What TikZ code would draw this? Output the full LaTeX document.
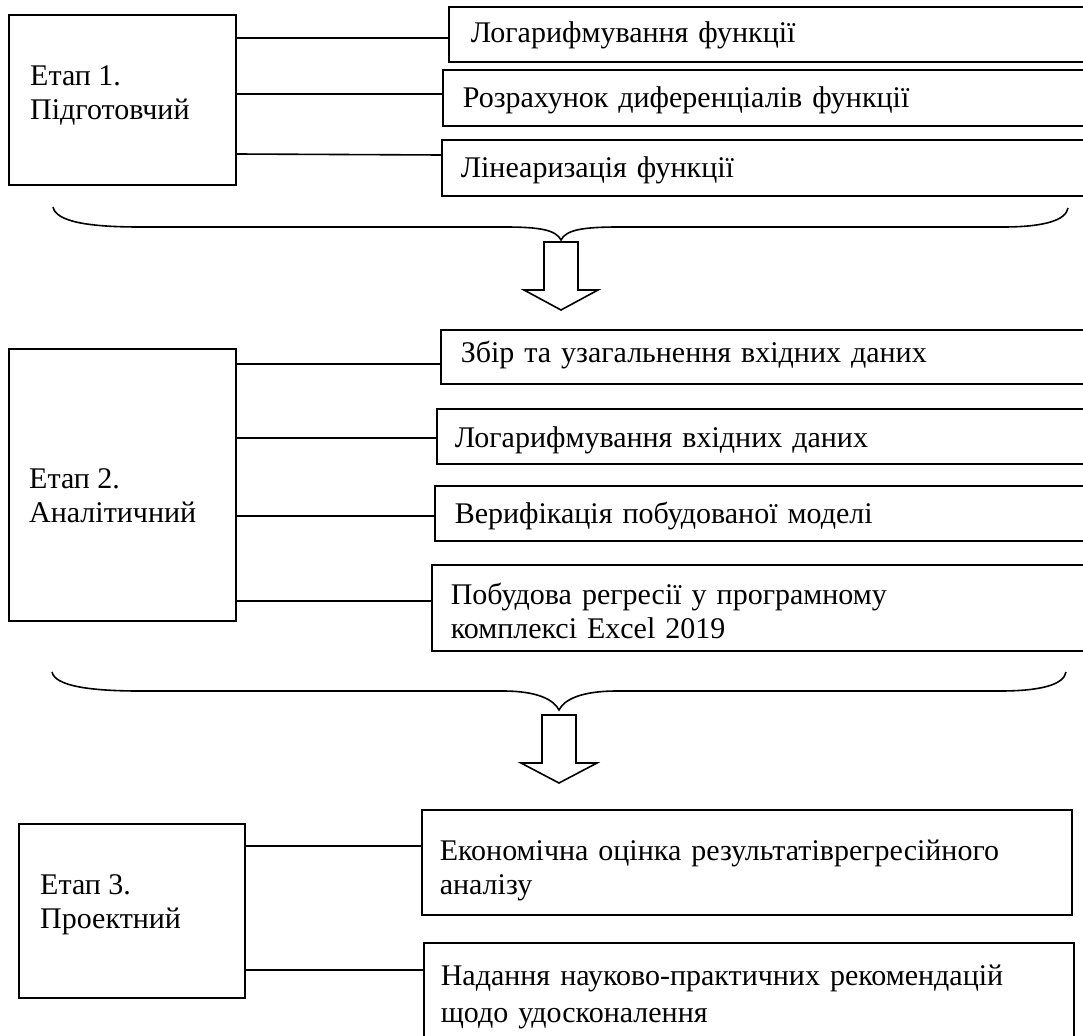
\documentclass[tikz,border=0pt]{standalone}
\usepackage{fontspec}
\setmainfont{Liberation Serif}
\begin{document}
\begin{tikzpicture}[x=1pt,y=-1pt,
  font=\fontsize{30}{34}\selectfont,
  stagebox/.style={draw, line width=1.8pt, rectangle, inner sep=0pt, anchor=north west},
  stagetxt/.style={inner sep=0pt, align=left, anchor=base west},
  itembox/.style={draw, line width=1.6pt, rectangle, anchor=west, inner ysep=0pt,
    inner xsep=19pt, align=left, text width=660pt, text depth=0pt},
  link/.style={line width=1.6pt},
  brace/.style={line width=1.6pt},
  blockarrow/.style={line width=1.6pt, fill=white, line join=miter}
]
\useasboundingbox (0,0) rectangle (1083,1035);

% ---------- Stage 1 ----------
\node[stagebox, minimum width=227pt, minimum height=170pt] (s1) at (8,14) {};
\node[stagetxt] (t1) at (30,120) {Етап 1.\\Підготовчий};
\node[itembox, inner xsep=22pt, minimum height=55pt, text height=17pt] (a) at (448,34.5) {Логарифмування функції};
\node[itembox, inner xsep=20pt, minimum height=56pt, text height=20pt] (b) at (442,98) {Розрахунок диференціалів функції};
\node[itembox, inner xsep=19pt, minimum height=56pt, text height=20pt] (c) at (441,168) {Лінеаризація функції};
\draw[link] (s1.east |- 0,38) -- (a.west |- 0,38);
\draw[link] (s1.east |- 0,94) -- (b.west |- 0,94);
\draw[link] (s1.east |- 0,154) -- (c.west |- 0,155);

% brace 1 and arrow 1
\draw[brace] (53,207) .. controls (56,222) and (90,227) .. (140,227) -- (505,227)
  .. controls (540,227) and (556,230) .. (561,240)
  .. controls (566,230) and (582,227) .. (619,227) -- (1003,227)
  .. controls (1045,227) and (1066,220) .. (1068,208);
\draw[blockarrow] (544,242) -- (578,242) -- (578,290) -- (598,290) -- (561,310)
  -- (524,290) -- (544,290) -- cycle;

% ---------- Stage 2 ----------
\node[stagebox, minimum width=227pt, minimum height=272pt] (s2) at (8,348) {};
\node[stagetxt] (t2) at (29,522) {Етап 2.\\Аналітичний};
\node[itembox, inner xsep=20pt, minimum height=54pt, text height=10pt] (d) at (440,357) {Збір та узагальнення вхідних даних};
\node[itembox, inner xsep=18pt, minimum height=55pt, text height=21pt] (e) at (436,436.5) {Логарифмування вхідних даних};
\node[itembox, inner xsep=20pt, minimum height=55pt, text height=19pt] (f) at (434,513.5) {Верифікація побудованої моделі};
\node[itembox, inner xsep=19pt, minimum height=86pt, text height=19pt, text depth=27pt] (g) at (431,608) {Побудова регресії у програмному\\комплексі Excel 2019};
\draw[link] (s2.east |- 0,364) -- (d.west |- 0,364);
\draw[link] (s2.east |- 0,438) -- (e.west |- 0,438);
\draw[link] (s2.east |- 0,516) -- (f.west |- 0,516);
\draw[link] (s2.east |- 0,601) -- (g.west |- 0,601);

% brace 2 and arrow 2
\draw[brace] (52,672) .. controls (55,686) and (90,691) .. (140,691) -- (503,691)
  .. controls (538,691) and (554,700) .. (559,710)
  .. controls (564,700) and (580,691) .. (617,691) -- (1000,691)
  .. controls (1043,691) and (1064,684) .. (1066,672);
\draw[blockarrow] (542,715) -- (576,715) -- (576,763) -- (597,763) -- (559,783)
  -- (521,763) -- (542,763) -- cycle;

% ---------- Stage 3 ----------
\node[stagebox, minimum width=226pt, minimum height=174pt] (s3) at (18,823) {};
\node[stagetxt] (t3) at (40,928) {Етап 3.\\Проектний};
\node[itembox, inner xsep=18pt, text width=614pt, minimum height=105pt, text height=19pt, text depth=24pt] (h) at (421,862.5) {Економічна оцінка результатіврегресійного\\аналізу};
\node[itembox, inner xsep=17pt, text width=616pt, minimum height=106pt, text height=19pt, text depth=41pt,
  font=\fontsize{30}{37}\selectfont] (i) at (423,996) {Надання науково-практичних рекомендацій\\щодо удосконалення};
\draw[link] (s3.east |- 0,846) -- (h.west |- 0,846);
\draw[link] (s3.east |- 0,970) -- (i.west |- 0,970);
\end{tikzpicture}
\end{document}
